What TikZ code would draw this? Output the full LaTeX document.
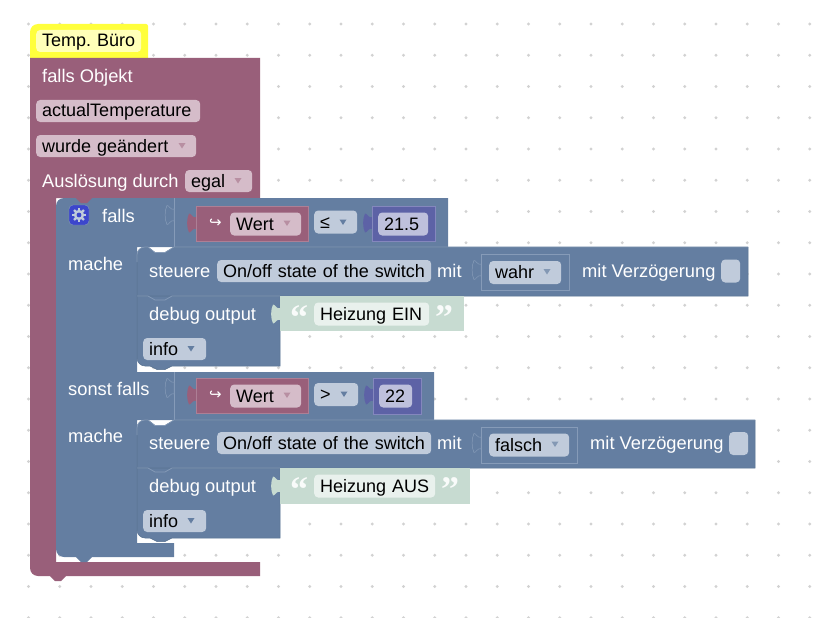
\documentclass[tikz,border=0pt]{standalone}
\usepackage{fontspec}
\setmainfont{Liberation Sans}
\newfontfamily\symfont{DejaVu Sans}
\newfontfamily\quotefont{Liberation Serif}
\usepackage{tikz}
\definecolor{maroon}{HTML}{995F7A}
\definecolor{maroonfield}{HTML}{D5BCC9}
\definecolor{maroonedge}{HTML}{AD7F95}
\definecolor{slate}{HTML}{647EA1}
\definecolor{slatefield}{HTML}{C0CBDB}
\definecolor{slateedge}{HTML}{869BB8}
\definecolor{slatedark}{HTML}{56708F}
\definecolor{indigo}{HTML}{5D62A6}
\definecolor{indigofield}{HTML}{BEC0DC}
\definecolor{indigoedge}{HTML}{8487BD}
\definecolor{iconblue}{HTML}{3C46CC}
\definecolor{sage}{HTML}{C7DBD1}
\definecolor{sagefield}{HTML}{E9F1ED}
\definecolor{hatyellow}{HTML}{FFFF3C}
\definecolor{hatfield}{HTML}{FFFFB8}
\definecolor{griddot}{HTML}{D2D2D2}
\tikzset{
 caption/.style = {
    white, anchor=base west, inner sep=0pt, font=\fontsize{18.3}{21}\selectfont},
 field/.style = {
    anchor=west, inner xsep=6pt, inner ysep=0pt,
    minimum height=23pt, text height=15pt, text depth=3pt,
    rounded corners=4pt, align=left, text=black},
 slatebox/.style = {
    field, fill=slatefield},
 maroonbox/.style = {
    field, fill=maroonfield},
 stmt/.style = {
    fill=slate, draw=slatedark, line width=0.5pt},
 ridge/.style = {
    draw=slateedge, line width=0.7pt},
 tab/.pic = {
    \path [pic actions] (0,-6) .. controls (-3,-4) and (-5,-10) .. (-7,-9.5)
        .. controls (-9.5,-5) and (-9.5,5) .. (-7,9.5)
        .. controls (-5,10) and (-3,4) .. (0,6) -- cycle;},
 dropmark/.pic = {
    \fill [pic actions] (-3.5,-2.5) -- (3.5,-2.5) -- (0,3) -- cycle;},
}
\begin{document}
\begin{tikzpicture}[x=1pt, y=-1pt, font=\fontsize{18}{21}\selectfont]
\useasboundingbox (0,0) rectangle (820,618);

% Grid
\foreach \i in {0,...,25}
    \foreach \j in {0,...,19}
        \fill [griddot] (28.5+31.25*\i, 24+31.25*\j) circle (1.6);

% Comment hat
\fill [hatyellow] (30,58) [rounded corners=8pt] -- (30,24) [sharp corners] -- (40,24)
    [rounded corners=2pt] -- (148,24) [sharp corners] -- (148,58) -- (66,58) -- (61,62.5) -- (55,62.5) -- (50,58) -- cycle;
\node [field, fill=hatfield, text width=93pt, minimum height=22pt] (hat) at (36,41) {\mbox{Temp.\ Büro}};

% Outer block
\fill [maroon] (30,58) -- (260,58) -- (260,198) -- (56,198) -- (56,562) -- (260,562) -- (260,576)
    -- (66,576) -- (61,581) -- (55,581) -- (50,576) [rounded corners=8pt] -- (30,576) -- (30,540) [sharp corners] -- cycle;
\node [caption] (trigger) at (42,82) {falls Objekt};
\node [maroonbox, text width=152pt, minimum height=22pt] (object) at (36,111) {actualTemperature};
\node [maroonbox, text width=148pt, minimum height=22pt] (change) at (36,146) {wurde geändert};
\pic [fill=maroon!70!white] at (182,145.5) {dropmark};
\node [caption] (source) at (42,187) {Auslösung durch};
\node [maroonbox, text width=55pt, minimum height=22pt] (egal) at (185,181) {egal};
\pic [fill=maroon!70!white] at (238,180.5) {dropmark};

% If block
\fill [slate] (56,230) [rounded corners=8pt] -- (56,198) [sharp corners] -- (448,198) -- (448,247) -- (137,247) -- (137,372)
    -- (434,372) -- (434,420) -- (137,420) -- (137,543) -- (174,543) -- (174,557)
    -- (92,557) -- (87,562) -- (81,562) -- (76,557) [rounded corners=8pt] -- (56,557) -- (56,500) [sharp corners] -- cycle;
\fill [maroon] (92,198) -- (87,203) -- (81,203) -- (76,198) -- cycle;
\draw [ridge] (174,198) -- (174,247) (174,372) -- (174,420);
\pic [fill=slate, draw=slateedge, line width=0.5pt] at (174,215) {tab};
\pic [fill=slate, draw=slateedge, line width=0.5pt] at (174,388) {tab};

% Icon
\node [fill=iconblue, draw=slateedge, rounded corners=4pt, minimum size=20pt, inner sep=0pt] (icon) at (79,215) {};
\fill [slatefield] (icon.center) circle (5.2);
\foreach \a in {0,45,...,315}
    \draw [slatefield, line width=2.4pt] (icon.center) -- ++(\a:7);
\fill [iconblue] (icon.center) circle (2.4);

\node [caption] (falls) at (102,222) {falls};
\node [caption] (mache1) at (68,270) {mache};
\node [caption] (sonst) at (68,395) {sonst falls};
\node [caption] (mache2) at (68,442) {mache};

% First condition
\pic [fill=maroon] at (196,223) {tab};
\fill [maroon, draw=maroonedge, line width=0.5pt] (196,206) rectangle (308,241);
\node [white, inner sep=0pt, font=\symfont\fontsize{15}{18}\selectfont] (hook1) at (215.5,223) {↪};
\node [maroonbox, text width=59pt] (wert1) at (230,224) {Wert};
\pic [fill=maroon!70!white] at (287,223) {dropmark};
\node [slatebox, text width=31pt] (op1) at (314,222) {≤};
\pic [fill=slate] at (343,222) {dropmark};
\pic [fill=indigo] at (372,223) {tab};
\fill [indigo, draw=indigoedge, line width=0.5pt] (372,206) rectangle (435,241);
\node [field, fill=indigofield, text width=38pt] (num1) at (378,224) {21.5};

% First statements
\path [stmt] (137,296) [rounded corners=8pt] -- (137,247) [sharp corners] -- (148,247) -- (155,252.5) -- (165,252.5) -- (174,247) -- (748,247) -- (748,296) -- cycle;
\draw [ridge] (137,262) [rounded corners=8pt] -- (137,247) [sharp corners] -- (148,247) -- (155,252.5) -- (165,252.5) -- (174,247) -- (748,247);
\node [caption] (steuere1) at (149,277) {steuere};
\node [slatebox, text width=202pt, minimum height=22pt] (state1) at (217,271) {On/off state of the switch};
\node [caption] (mit1) at (437,277) {mit};
\pic [fill=slate, draw=slateedge, line width=0.5pt] at (481,270) {tab};
\draw [ridge, fill=slate] (481,254) rectangle (569,290.5);
\node [slatebox, text width=60pt] (wahr) at (489,272.5) {wahr};
\pic [fill=slate!80!white] at (547,271.5) {dropmark};
\node [caption] (delay1) at (582,277) {mit Verzögerung};
\node [slatebox, minimum width=19pt, inner xsep=0pt] (check1) at (721,271) {};

\path [stmt] (137,340) -- (137,296) -- (280,296) -- (280,366) -- (172,366) -- (165,369.5) -- (157,369.5) -- (150,366) [rounded corners=8pt] -- (137,366) -- (137,340) [sharp corners] -- cycle;
\draw [ridge] (137,296) -- (148,296) -- (155,300) -- (165,300) -- (172,296) -- (280,296);
\node [caption] (debug1) at (149,320) {debug output};
\fill [sage] (280,296) rectangle (464,331);
\pic [fill=sage] at (280,314) {tab};
\node [white!90!sage, inner sep=0pt, anchor=base, font=\quotefont\bfseries\fontsize{36}{36}\selectfont] (open1) at (299,329) {“};
\node [field, fill=sagefield, text width=103pt] (msg1) at (314,314) {\mbox{Heizung EIN}};
\node [white!90!sage, inner sep=0pt, anchor=base, font=\quotefont\bfseries\fontsize{36}{36}\selectfont] (close1) at (444,329) {”};
\node [slatebox, text width=51pt, minimum height=22pt] (info1) at (143,349) {info};
\pic [fill=slate] at (191,348.5) {dropmark};

% Second condition
\pic [fill=maroon] at (196,395) {tab};
\fill [maroon, draw=maroonedge, line width=0.5pt] (196,378) rectangle (308,413);
\node [white, inner sep=0pt, font=\symfont\fontsize{15}{18}\selectfont] (hook2) at (215.5,395) {↪};
\node [maroonbox, text width=59pt] (wert2) at (230,396) {Wert};
\pic [fill=maroon!70!white] at (287,395) {dropmark};
\node [slatebox, text width=32pt] (op2) at (314,394.5) {>};
\pic [fill=slate] at (344,394) {dropmark};
\pic [fill=indigo] at (373,395) {tab};
\fill [indigo, draw=indigoedge, line width=0.5pt] (373,378) rectangle (421,414);
\node [field, fill=indigofield, text width=21pt] (num2) at (379,396) {22};

% Second statements
\path [stmt] (137,468) [rounded corners=8pt] -- (137,420) [sharp corners] -- (148,420) -- (155,425.5) -- (165,425.5) -- (174,420) -- (755,420) -- (755,468) -- cycle;
\draw [ridge] (137,435) [rounded corners=8pt] -- (137,420) [sharp corners] -- (148,420) -- (155,425.5) -- (165,425.5) -- (174,420) -- (755,420);
\node [caption] (steuere2) at (149,449) {steuere};
\node [slatebox, text width=202pt, minimum height=22pt] (state2) at (217,443) {On/off state of the switch};
\node [caption] (mit2) at (437,449) {mit};
\pic [fill=slate, draw=slateedge, line width=0.5pt] at (481,443) {tab};
\draw [ridge, fill=slate] (481,427) rectangle (577,463);
\node [slatebox, text width=68pt] (falsch) at (489,445) {falsch};
\pic [fill=slate!80!white] at (555,444) {dropmark};
\node [caption] (delay2) at (590,449) {mit Verzögerung};
\node [slatebox, minimum width=19pt, inner xsep=0pt] (check2) at (729,443.5) {};

\path [stmt] (137,510) -- (137,468) -- (280,468) -- (280,538) -- (172,538) -- (165,541.5) -- (157,541.5) -- (150,538) [rounded corners=8pt] -- (137,538) -- (137,510) [sharp corners] -- cycle;
\draw [ridge] (137,468) -- (148,468) -- (155,472) -- (165,472) -- (172,468) -- (280,468);
\node [caption] (debug2) at (149,492) {debug output};
\fill [sage] (280,468) rectangle (470,504);
\pic [fill=sage] at (280,486) {tab};
\node [white!90!sage, inner sep=0pt, anchor=base, font=\quotefont\bfseries\fontsize{36}{36}\selectfont] (open2) at (299,501) {“};
\node [field, fill=sagefield, text width=109pt] (msg2) at (314,486) {\mbox{Heizung AUS}};
\node [white!90!sage, inner sep=0pt, anchor=base, font=\quotefont\bfseries\fontsize{36}{36}\selectfont] (close2) at (450,501) {”};
\node [slatebox, text width=51pt, minimum height=22pt] (info2) at (143,521) {info};
\pic [fill=slate] at (191,520.5) {dropmark};

\end{tikzpicture}
\end{document}
